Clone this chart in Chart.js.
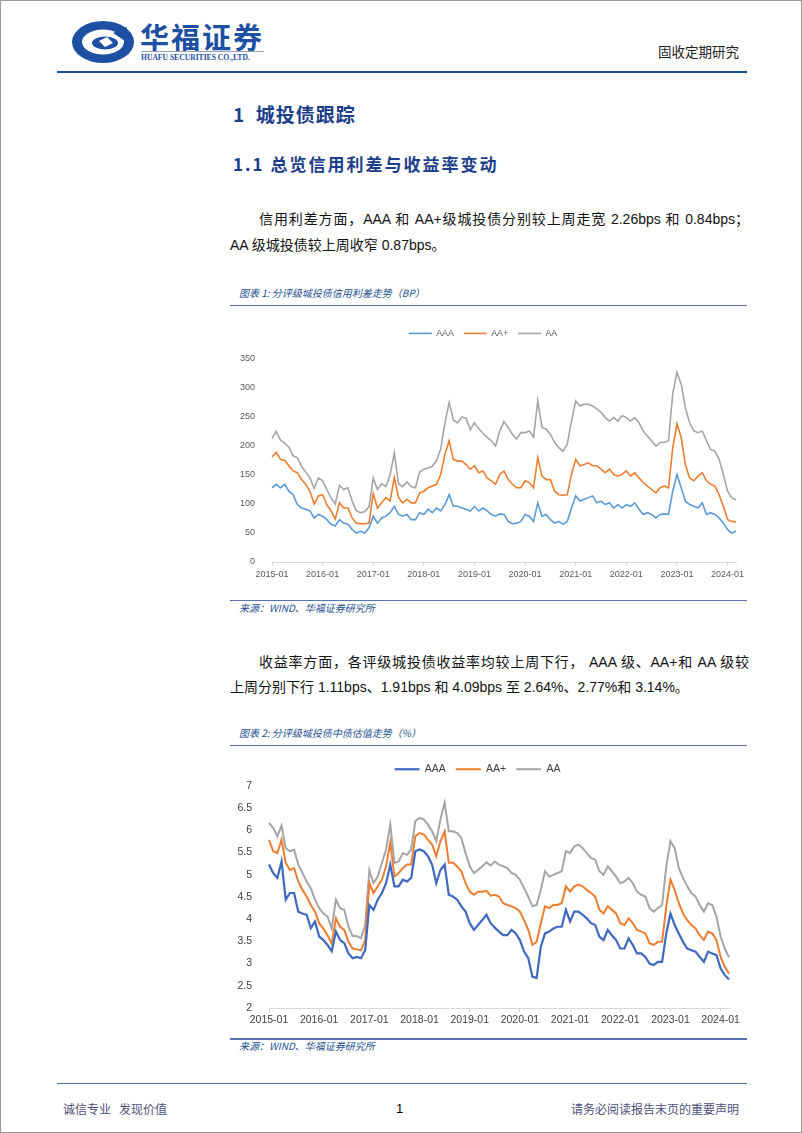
<!DOCTYPE html>
<html>
<head>
<meta charset="utf-8">
<script src="https://cdn.jsdelivr.net/npm/chart.js@4.4.1/dist/chart.umd.min.js"></script>
<style>
  html, body { margin: 0; padding: 0; background: #fff; }
  #page { position: relative; width: 802px; height: 1133px; overflow: hidden; box-sizing: border-box; border: 1px solid #9a9a9a; font-family: "Noto Sans CJK SC", sans-serif; }
  .t { position: absolute; white-space: nowrap; }
  .rule { position: absolute; left: 229px; width: 517px; height: 1.5px; background: #5473b0; }
  .cap { font-size: 10px; font-style: italic; color: #24508f; height: 14px; line-height: 14px; }
  .body { font-family: "Liberation Sans", "Noto Sans CJK SC", sans-serif; font-size: 14px; color: #111; height: 20px; line-height: 20px; }
  .just { text-align: justify; text-align-last: justify; }
  canvas { position: absolute; }
</style>
</head>
<body>
<div id="page">
  <!-- header -->
  <svg class="t" style="left:68px;top:18px" width="70" height="48" viewBox="0 0 70 48">
    <ellipse cx="34" cy="23" rx="31" ry="21" fill="#1d50a2"/>
    <ellipse cx="34" cy="23" rx="21" ry="12.5" fill="#fff"/>
    <ellipse cx="36" cy="24" rx="13" ry="6.5" fill="#1d50a2"/>
    <path d="M44 14 L58 8 L56 22 Z" fill="#1d50a2"/>
    <path d="M30 22 L38 18 L44 24 L36 28 Z" fill="#fff"/>
  </svg>
  <div class="t" style="left:139px;top:17px;font-size:29px;line-height:36px;font-weight:700;color:#1d50a2;letter-spacing:2px;">华福证券</div>
  <div class="t" style="left:140px;top:50px;width:123px;height:1px;background:#9aa3b5;"></div>
  <div class="t" style="left:140px;top:52px;font-family:'Liberation Serif',serif;font-size:7.6px;line-height:10px;font-weight:700;color:#1d50a2;">HUAFU SECURITIES CO.,LTD.</div>
  <div class="t" style="left:657px;top:41px;font-size:13.5px;line-height:18px;color:#222;">固收定期研究</div>
  <div class="t" style="left:56px;top:69.5px;width:690px;height:2px;background:#1f4e9e;"></div>

  <div class="t" style="left:232px;top:101px;font-size:19px;line-height:24px;font-weight:700;color:#1b3d8a;letter-spacing:1px;">1&nbsp; 城投债跟踪</div>
  <div class="t" style="left:232px;top:152px;font-size:17px;line-height:22px;font-weight:700;color:#1b3d8a;letter-spacing:2px;">1.1 总览信用利差与收益率变动</div>

  <div class="t body just" style="left:258px;top:208px;width:490px;">信用利差方面，AAA 和 AA+级城投债分别较上周走宽 2.26bps 和 0.84bps；</div>
  <div class="t body" style="left:229px;top:234px;">AA 级城投债较上周收窄 0.87bps。</div>

  <div class="t cap" style="left:238px;top:285px;">图表 1: 分评级城投债信用利差走势（BP）</div>
  <div class="rule" style="top:303.5px;"></div>
  <canvas id="c1" width="528" height="273" style="left:229px;top:318px;width:528px;height:273px;"></canvas>
  <div class="rule" style="top:598.5px;"></div>
  <div class="t cap" style="left:238px;top:600px;">来源：WIND、华福证券研究所</div>

  <div class="t body just" style="left:258px;top:651px;width:490px;">收益率方面，各评级城投债收益率均较上周下行， AAA 级、AA+和 AA 级较</div>
  <div class="t body" style="left:229px;top:676px;">上周分别下行 1.11bps、1.91bps 和 4.09bps 至 2.64%、2.77%和 3.14%。</div>

  <div class="t cap" style="left:238px;top:724.5px;">图表 2: 分评级城投债中债估值走势（%）</div>
  <div class="rule" style="top:743.5px;"></div>
  <canvas id="c2" width="521" height="280" style="left:225px;top:753px;width:521px;height:280px;"></canvas>
  <div class="rule" style="top:1037px;"></div>
  <div class="t cap" style="left:238px;top:1037.5px;">来源：WIND、华福证券研究所</div>

  <!-- footer -->
  <div class="t" style="left:56px;top:1081.5px;width:690px;height:1.5px;background:#4f6fa8;"></div>
  <div class="t" style="left:62px;top:1100px;font-size:12px;line-height:16px;color:#50507a;">诚信专业&nbsp;&nbsp; 发现价值</div>
  <div class="t" style="left:395px;top:1099px;font-family:'Liberation Sans',sans-serif;font-size:13px;line-height:18px;color:#000;">1</div>
  <div class="t" style="right:62px;top:1100px;font-size:12px;line-height:16px;color:#50507a;">请务必阅读报告末页的重要声明</div>
</div>

<script>
// monthly points, 2015-01 .. 2024-03
var months = [];
for (var y = 2015; y <= 2024; y++) {
    for (var m = 1; m <= 12; m++) {
        if (y === 2024 && m > 3) break;
        months.push(y + '-' + (m < 10 ? '0' + m : m));
    }
}

var seriesNames = ['AAA', 'AA+', 'AA'];

// 信用利差 (BP)
var spreadAAA = [
    128, 134, 128, 134, 122, 116, 99, 93, 91, 88, 76, 82,
    79, 73, 65, 62, 73, 67, 65, 56, 50, 53, 50, 59,
    79, 67, 76, 79, 85, 96, 82, 79, 82, 73, 73, 85,
    82, 91, 85, 93, 88, 99, 116, 96, 96, 93, 91, 88,
    96, 88, 93, 88, 82, 79, 83, 82, 70, 66, 67, 70,
    82, 79, 70, 102, 79, 82, 73, 67, 70, 65, 70, 93,
    114, 105, 108, 111, 114, 102, 105, 99, 102, 93, 99, 93,
    99, 96, 102, 91, 82, 85, 82, 76, 82, 83, 82, 122,
    151, 128, 105, 99, 96, 93, 102, 82, 85, 82, 76, 67,
    56, 50, 53
];
var spreadAAp = [
    181, 189, 177, 175, 166, 157, 154, 142, 134, 122, 100, 114,
    116, 99, 88, 74, 102, 93, 93, 76, 67, 66, 66, 67,
    118, 93, 102, 111, 105, 146, 111, 102, 108, 102, 102, 119,
    122, 128, 131, 134, 151, 186, 209, 177, 174, 174, 168, 160,
    166, 154, 157, 145, 140, 134, 151, 157, 142, 134, 128, 128,
    140, 137, 128, 180, 148, 142, 142, 122, 116, 115, 116, 151,
    177, 166, 168, 171, 166, 166, 160, 154, 160, 151, 148, 151,
    157, 148, 154, 145, 137, 131, 125, 119, 128, 131, 128, 197,
    238, 215, 168, 145, 140, 148, 154, 140, 134, 131, 116, 96,
    73, 70, 69
];
var spreadAA = [
    213, 225, 210, 205, 198, 183, 180, 165, 155, 145, 127, 145,
    140, 125, 110, 100, 132, 125, 128, 105, 88, 85, 87, 95,
    145, 125, 135, 130, 150, 188, 135, 130, 138, 130, 128, 155,
    160, 162, 165, 175, 195, 240, 275, 245, 240, 250, 248, 228,
    240, 230, 222, 215, 209, 200, 226, 242, 232, 220, 212, 223,
    223, 226, 215, 278, 232, 229, 220, 206, 197, 191, 203, 243,
    278, 269, 272, 272, 269, 264, 258, 249, 243, 249, 243, 252,
    249, 243, 249, 240, 226, 217, 209, 200, 206, 206, 209, 290,
    327, 307, 266, 240, 226, 223, 226, 209, 194, 191, 177, 151,
    122, 111, 107
];

// 中债估值收益率 (%)
var yieldAAA = [
    5.23, 5.04, 4.93, 5.30, 4.44, 4.59, 4.59, 4.17, 4.13, 4.10, 3.80, 3.95,
    3.61, 3.53, 3.42, 3.28, 3.72, 3.53, 3.46, 3.23, 3.12, 3.15, 3.12, 3.30,
    4.32, 4.21, 4.44, 4.59, 4.81, 5.23, 4.74, 4.74, 4.89, 4.85, 4.93, 5.53,
    5.57, 5.53, 5.42, 5.23, 4.81, 5.11, 5.23, 4.55, 4.51, 4.44, 4.29, 4.17,
    3.91, 3.76, 3.87, 3.98, 4.10, 3.91, 3.81, 3.72, 3.64, 3.64, 3.76, 3.68,
    3.53, 3.27, 3.12, 2.70, 2.68, 3.38, 3.68, 3.72, 3.79, 3.83, 3.83, 4.21,
    3.95, 4.17, 4.17, 4.10, 4.02, 3.91, 3.87, 3.61, 3.53, 3.76, 3.64, 3.53,
    3.34, 3.34, 3.57, 3.42, 3.23, 3.23, 3.15, 3.00, 2.97, 3.04, 3.04, 3.68,
    4.13, 3.87, 3.68, 3.49, 3.34, 3.30, 3.27, 3.15, 3.04, 3.27, 3.23, 3.19,
    2.89, 2.74, 2.64
];
var yieldAAp = [
    5.79, 5.53, 5.49, 5.79, 5.27, 5.11, 5.15, 4.85, 4.66, 4.51, 4.32, 4.17,
    3.91, 3.79, 3.64, 3.45, 4.02, 3.83, 3.76, 3.49, 3.34, 3.32, 3.30, 3.53,
    4.81, 4.59, 4.74, 4.89, 5.19, 5.72, 4.96, 5.04, 5.15, 5.23, 5.23, 5.87,
    5.94, 5.91, 5.79, 5.68, 5.42, 5.76, 5.98, 5.27, 5.27, 5.19, 5.08, 4.81,
    4.62, 4.55, 4.62, 4.62, 4.64, 4.53, 4.55, 4.51, 4.36, 4.32, 4.29, 4.25,
    4.17, 3.98, 3.76, 3.42, 3.49, 3.91, 4.29, 4.25, 4.32, 4.32, 4.36, 4.74,
    4.62, 4.74, 4.78, 4.74, 4.66, 4.59, 4.51, 4.21, 4.13, 4.29, 4.21, 4.13,
    3.91, 3.87, 4.02, 3.91, 3.76, 3.72, 3.68, 3.46, 3.42, 3.49, 3.49, 4.29,
    4.89, 4.66, 4.36, 4.13, 3.98, 3.87, 3.79, 3.64, 3.53, 3.72, 3.68, 3.53,
    3.15, 2.93, 2.77
];
var yieldAA = [
    6.17, 6.06, 5.87, 6.11, 5.60, 5.53, 5.57, 5.23, 5.04, 4.85, 4.70, 4.44,
    4.25, 4.13, 4.06, 3.79, 4.44, 4.25, 4.21, 3.83, 3.62, 3.62, 3.57, 3.87,
    5.11, 4.81, 4.96, 5.27, 5.57, 6.13, 5.27, 5.30, 5.49, 5.45, 5.57, 6.21,
    6.28, 6.25, 6.13, 5.98, 5.76, 6.25, 6.62, 5.98, 5.98, 5.94, 5.83, 5.49,
    5.19, 5.04, 5.11, 5.19, 5.28, 5.21, 5.30, 5.23, 5.19, 5.15, 5.04, 5.00,
    4.89, 4.70, 4.51, 4.29, 4.32, 4.66, 5.08, 4.96, 5.00, 5.04, 5.08, 5.53,
    5.49, 5.64, 5.68, 5.60, 5.49, 5.38, 5.34, 5.08, 5.00, 5.19, 5.08, 4.96,
    4.81, 4.85, 4.93, 4.81, 4.62, 4.55, 4.51, 4.25, 4.17, 4.25, 4.32, 5.19,
    5.76, 5.60, 5.15, 4.93, 4.74, 4.59, 4.51, 4.32, 4.17, 4.36, 4.32, 4.06,
    3.61, 3.34, 3.14
];

function isYearStart(i) {
    return months[i] && months[i].slice(5) === '01';
}

// legend box gets a fixed height so the plot top lines up
var legendHeight = {
    id: 'legendHeight',
    beforeLayout: function (chart, args, opts) {
        var lg = chart.legend;
        if (lg && !lg._fixedH) {
            var fit = lg.fit;
            lg.fit = function () {
                fit.call(this);
                this.height = opts.height;
            };
            lg._fixedH = true;
        }
    }
};

function makeChart(id, o) {
    var datasets = [];
    for (var i = 0; i < o.series.length; i++) {
        datasets.push({
            label: seriesNames[i],
            data: o.series[i],
            borderColor: o.colors[i],
            backgroundColor: o.colors[i],
            borderWidth: o.widths[i],
            pointRadius: 0,
            tension: 0
        });
    }
    return new Chart(document.getElementById(id), {
        type: 'line',
        data: { labels: months, datasets: datasets },
        plugins: [legendHeight],
        options: {
            responsive: false,
            animation: false,
            layout: { padding: { left: 0, right: o.padRight, top: 0, bottom: 0 } },
            plugins: {
                tooltip: { enabled: false },
                legendHeight: { height: o.legendH },
                legend: {
                    position: 'top',
                    labels: {
                        usePointStyle: true,
                        pointStyle: 'line',
                        pointStyleWidth: o.legendLine,
                        padding: 10,
                        color: o.legendColor,
                        font: { family: 'Liberation Sans', size: o.legendSize }
                    }
                }
            },
            scales: {
                x: {
                    type: 'category',
                    offset: false,
                    grid: {
                        drawOnChartArea: false,
                        drawTicks: true,
                        tickLength: 4,
                        color: function (ctx) { return isYearStart(ctx.index) ? '#d9d9d9' : 'rgba(0,0,0,0)'; }
                    },
                    border: { display: true, color: '#d9d9d9', width: 1 },
                    ticks: {
                        autoSkip: false,
                        maxRotation: 0,
                        padding: o.xPad,
                        color: o.tickColor,
                        font: { family: 'Liberation Sans', size: o.tickSize },
                        callback: function (v, i) { return isYearStart(i) ? months[i] : ''; }
                    },
                    afterFit: function (s) { s.height = o.xH; }
                },
                y: {
                    min: o.yMin,
                    max: o.yMax,
                    grid: { display: false },
                    border: { display: false },
                    ticks: {
                        stepSize: o.yStep,
                        padding: 9,
                        color: o.tickColor,
                        font: { family: 'Liberation Sans', size: o.tickSize },
                        callback: function (v) { return String(Math.round(v * 10) / 10); }
                    },
                    afterFit: function (s) { s.width = o.yW; }
                }
            }
        }
    });
}

makeChart('c1', {
    series: [spreadAAA, spreadAAp, spreadAA],
    colors: ['#5b9bd5', '#ed7d31', '#a5a5a5'],
    widths: [1.6, 1.6, 1.6],
    yMin: 0, yMax: 350, yStep: 50, yW: 42, xH: 30, xPad: 3,
    padRight: 22, legendH: 40, legendLine: 23, legendSize: 8.8,
    legendColor: '#595959', tickColor: '#595959', tickSize: 9
});

makeChart('c2', {
    series: [yieldAAA, yieldAAp, yieldAA],
    colors: ['#3f68c0', '#ed7d31', '#a5a5a5'],
    widths: [2.2, 2, 2],
    yMin: 2, yMax: 7, yStep: 0.5, yW: 43, xH: 26, xPad: 2,
    padRight: 18, legendH: 32, legendLine: 25, legendSize: 10.5,
    legendColor: '#404040', tickColor: '#404040', tickSize: 10.5
});
</script>
</body>
</html>
